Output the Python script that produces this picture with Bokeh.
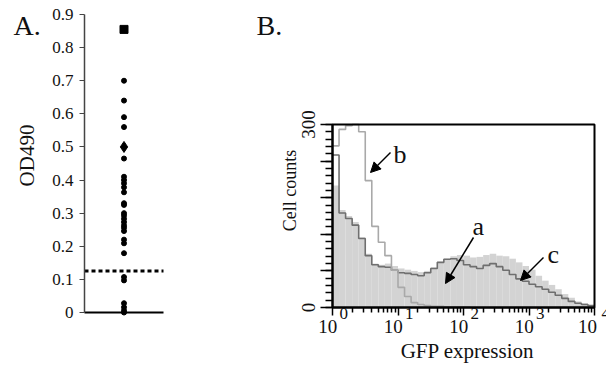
import numpy as np
from bokeh.plotting import figure
from bokeh.models import (Range1d, FixedTicker, Label, LabelSet, Arrow, NormalHead,
                          ColumnDataSource, LinearAxis, BoxAnnotation)
from bokeh.embed import file_html
from bokeh.resources import INLINE

# ---------------- data: panel A ----------------
od_circles = [0.70, 0.64, 0.59, 0.56, 0.465, 0.41, 0.40, 0.39, 0.378, 0.363,
              0.33, 0.325, 0.30, 0.293, 0.283, 0.273, 0.263, 0.256, 0.246,
              0.22, 0.209, 0.179, 0.107, 0.097, 0.028, 0.016, 0.006, 0.0]
od_square = [0.855]
od_diamond = [0.50]
od_cutoff = 0.125
od_ticks = [0, 0.1, 0.2, 0.3, 0.4, 0.5, 0.6, 0.7, 0.8, 0.9]
od_tick_labels = ["0", "0.1", "0.2", "0.3", "0.4", "0.5", "0.6", "0.7", "0.8", "0.9"]

# ---------------- data: panel B (0.1-decade bins from 10^0 to 10^4) ----------------
bin_edges_log = [i / 10 for i in range(41)]
counts_b = [265, 292, 298, 300, 288, 208, 133, 107, 85, 61,
            33, 18, 8, 5, 3, 2, 2, 1, 1, 1,
            1, 0, 0, 0, 0, 0, 0, 0, 0, 0,
            0, 0, 0, 0, 0, 0, 0, 0, 0, 0]
counts_c = [250, 155, 146, 135, 113, 85, 70, 67, 66, 61,
            57, 56, 54, 52, 57, 64, 74, 79, 80, 77,
            70, 67, 64, 69, 72, 67, 61, 54, 47, 43,
            38, 34, 30, 25, 20, 15, 10, 7, 5, 3]
counts_a = [200, 160, 150, 140, 115, 88, 72, 70, 72, 68,
            64, 62, 60, 58, 60, 66, 75, 80, 84, 86,
            85, 82, 83, 86, 88, 85, 84, 80, 74, 68,
            62, 52, 44, 37, 30, 22, 16, 10, 7, 4]
decade_ticks = [0, 1, 2, 3, 4]
decade_base_labels = ["10", "10", "10", "10", "10"]
decade_exponents = ["0", "1", "2", "3", "4"]
count_ticks = [0, 60, 120, 180, 240, 300]
count_tick_labels = ["0", "", "", "", "", "300"]

SERIF = "Liberation Serif"
AXIS_SERIF = "'Liberation Serif', 'Times New Roman', serif"
INK = "#111111"
W, H = 606, 366
BASE_SHIFT = 0.41  # empirical offset (in em) of the alphabetic baseline in Bokeh labels

# panel frames on the page (pixels from top-left)
A_L, A_R, A_T, A_B = 84, 163, 14, 312
A_X = (0.0, 2.0)
A_Y = (0.0, 0.9)
B_L, B_R, B_T, B_B = 332, 594, 124, 307
B_X = (0.0, 4.0)
B_Y = (0.0, 300.0)


def xrange_for(l, r, v):
    s = (v[1] - v[0]) / (r - l)
    return Range1d(start=v[0] - l * s, end=v[0] + (W - l) * s)


def yrange_for(t, b, v):
    s = (v[1] - v[0]) / (b - t)
    return Range1d(start=v[0] - (H - b) * s, end=v[0] + b * s)


def text_label(x, baseline, text, size, align="left"):
    return Label(x=x, y=baseline - BASE_SHIFT * size, text=text, text_font=SERIF,
                 text_font_size=f"{size}px", text_color=INK, text_align=align,
                 text_baseline="alphabetic")


p = figure(width=W, height=H, x_range=Range1d(0, W), y_range=Range1d(H, 0),
           output_backend="svg", toolbar_location=None,
           x_axis_location=None, y_axis_location=None,
           min_border_left=0, min_border_right=0, min_border_top=0, min_border_bottom=0)
p.outline_line_color = None
p.grid.visible = False
p.background_fill_color = "white"
p.border_fill_color = "white"

p.extra_x_ranges = {"ax": xrange_for(A_L, A_R, A_X), "gx": xrange_for(B_L, B_R, B_X)}
p.extra_y_ranges = {"ay": yrange_for(A_T, A_B, A_Y), "gy": yrange_for(B_T, B_B, B_Y)}

# ---------------- panel A ----------------
ya = LinearAxis(x_range_name="ax", y_range_name="ay", fixed_location=A_X[0], bounds=A_Y,
                ticker=FixedTicker(ticks=od_ticks))
ya.major_label_overrides = {t: s for t, s in zip(od_ticks, od_tick_labels)}
ya.axis_line_color = "#444444"
ya.axis_line_width = 1.5
ya.major_tick_line_color = "#444444"
ya.major_tick_out = 5
ya.major_tick_in = 0
ya.minor_tick_line_color = None
ya.major_label_text_font = AXIS_SERIF
ya.major_label_text_font_size = "17px"
ya.major_label_text_color = INK
ya.major_label_standoff = 6
p.add_layout(ya, "left")

xa = LinearAxis(x_range_name="ax", y_range_name="ay", fixed_location=A_Y[0], bounds=A_X,
                ticker=FixedTicker(ticks=[]))
xa.major_label_text_font_size = "0px"
xa.axis_line_color = "black"
xa.axis_line_width = 1.8
xa.major_tick_line_color = None
xa.minor_tick_line_color = None
p.add_layout(xa, "below")

p.line(x=list(A_X), y=[od_cutoff, od_cutoff], x_range_name="ax", y_range_name="ay",
       line_color="black", line_width=3, line_dash="4 3")
p.scatter(x=[1] * len(od_circles), y=od_circles, x_range_name="ax", y_range_name="ay",
          size=5, color="black", marker="circle")
p.scatter(x=[1] * len(od_square), y=od_square, x_range_name="ax", y_range_name="ay",
          size=8, color="black", marker="square")
p.scatter(x=[1] * len(od_diamond), y=od_diamond, x_range_name="ax", y_range_name="ay",
          size=11, color="black", marker="diamond")

p.add_layout(text_label(13, 36, "A.", 28))
p.add_layout(Label(x=26, y=155, text="OD490", text_font=SERIF, text_font_size="21px",
                   text_color=INK, text_align="center", text_baseline="middle",
                   angle=np.pi / 2))

# ---------------- panel B ----------------
left = bin_edges_log[:-1]
right = bin_edges_log[1:]
p.quad(left=left, right=right, bottom=0, top=counts_a, x_range_name="gx", y_range_name="gy",
       fill_color="#d3d3d3", line_color=None)
p.step(x=bin_edges_log, y=counts_c + [counts_c[-1]], mode="after", x_range_name="gx",
       y_range_name="gy", line_color="#6f6f6f", line_width=1.6)
p.step(x=bin_edges_log, y=counts_b + [counts_b[-1]], mode="after", x_range_name="gx",
       y_range_name="gy", line_color="#a9a9a9", line_width=1.6)

p.add_layout(BoxAnnotation(left=B_X[0], right=B_X[1], bottom=B_Y[0], top=B_Y[1],
                           x_range_name="gx", y_range_name="gy", fill_alpha=0,
                           line_color="black", line_width=2, line_alpha=1))

yb = LinearAxis(x_range_name="gx", y_range_name="gy", fixed_location=B_X[0], bounds=B_Y,
                ticker=FixedTicker(ticks=count_ticks, minor_ticks=list(range(0, 301, 12))))
yb.major_label_overrides = {t: s for t, s in zip(count_ticks, count_tick_labels)}
yb.major_label_orientation = "vertical"
yb.axis_line_color = "black"
yb.axis_line_width = 2
yb.major_tick_line_color = "black"
yb.major_tick_line_width = 1.5
yb.minor_tick_line_color = "black"
yb.minor_tick_line_width = 1.5
yb.major_tick_out = 12
yb.major_tick_in = 0
yb.minor_tick_out = 7
yb.minor_tick_in = 0
yb.major_label_text_font = AXIS_SERIF
yb.major_label_text_font_size = "19px"
yb.major_label_text_color = INK
yb.major_label_standoff = 6
p.add_layout(yb, "left")

minor_log = [float(np.log10(k * 10 ** d)) for d in range(4) for k in range(2, 10)]
xb = LinearAxis(x_range_name="gx", y_range_name="gy", fixed_location=B_Y[0], bounds=B_X,
                ticker=FixedTicker(ticks=decade_ticks, minor_ticks=minor_log))
xb.major_label_overrides = {t: s + "\u2002" for t, s in zip(decade_ticks, decade_base_labels)}
xb.axis_line_color = "black"
xb.axis_line_width = 2
xb.major_tick_line_color = "black"
xb.major_tick_line_width = 1.5
xb.minor_tick_line_color = "black"
xb.minor_tick_line_width = 1.5
xb.major_tick_out = 8
xb.major_tick_in = 0
xb.minor_tick_out = 5
xb.minor_tick_in = 0
xb.major_label_text_font = AXIS_SERIF
xb.major_label_text_font_size = "19px"
xb.major_label_text_color = INK
xb.major_label_standoff = 0
p.add_layout(xb, "below")

exp_src = ColumnDataSource(dict(x=decade_ticks, y=[313] * len(decade_ticks),
                                text=decade_exponents))
p.add_layout(LabelSet(x="x", y="y", text="text", source=exp_src, x_range_name="gx",
                      x_offset=7, text_font=SERIF, text_font_size="17px", text_color=INK,
                      text_align="left", text_baseline="middle"))

p.add_layout(text_label(256, 36, "B.", 28))
p.add_layout(Label(x=289, y=190, text="Cell counts", text_font=SERIF,
                   text_font_size="18px", text_color=INK, text_align="center",
                   text_baseline="middle", angle=np.pi / 2))
p.add_layout(text_label(467, 359, "GFP expression", 21, align="center"))

# curve labels and arrows
for txt, (tx, ty), (x0, y0), (x1, y1) in [
        ("b", (393, 165), (390, 152), (370, 172)),
        ("a", (472, 237), (473, 237), (445, 283)),
        ("c", (547, 265), (543, 257), (520, 280))]:
    p.add_layout(text_label(tx, ty, txt, 26))
    p.add_layout(Arrow(end=NormalHead(size=10, fill_color="black", line_color="black"),
                       x_start=x0, y_start=y0, x_end=x1, y_end=y1,
                       line_color="black", line_width=1.5))

open("out.html", "w").write(file_html(p, INLINE))
